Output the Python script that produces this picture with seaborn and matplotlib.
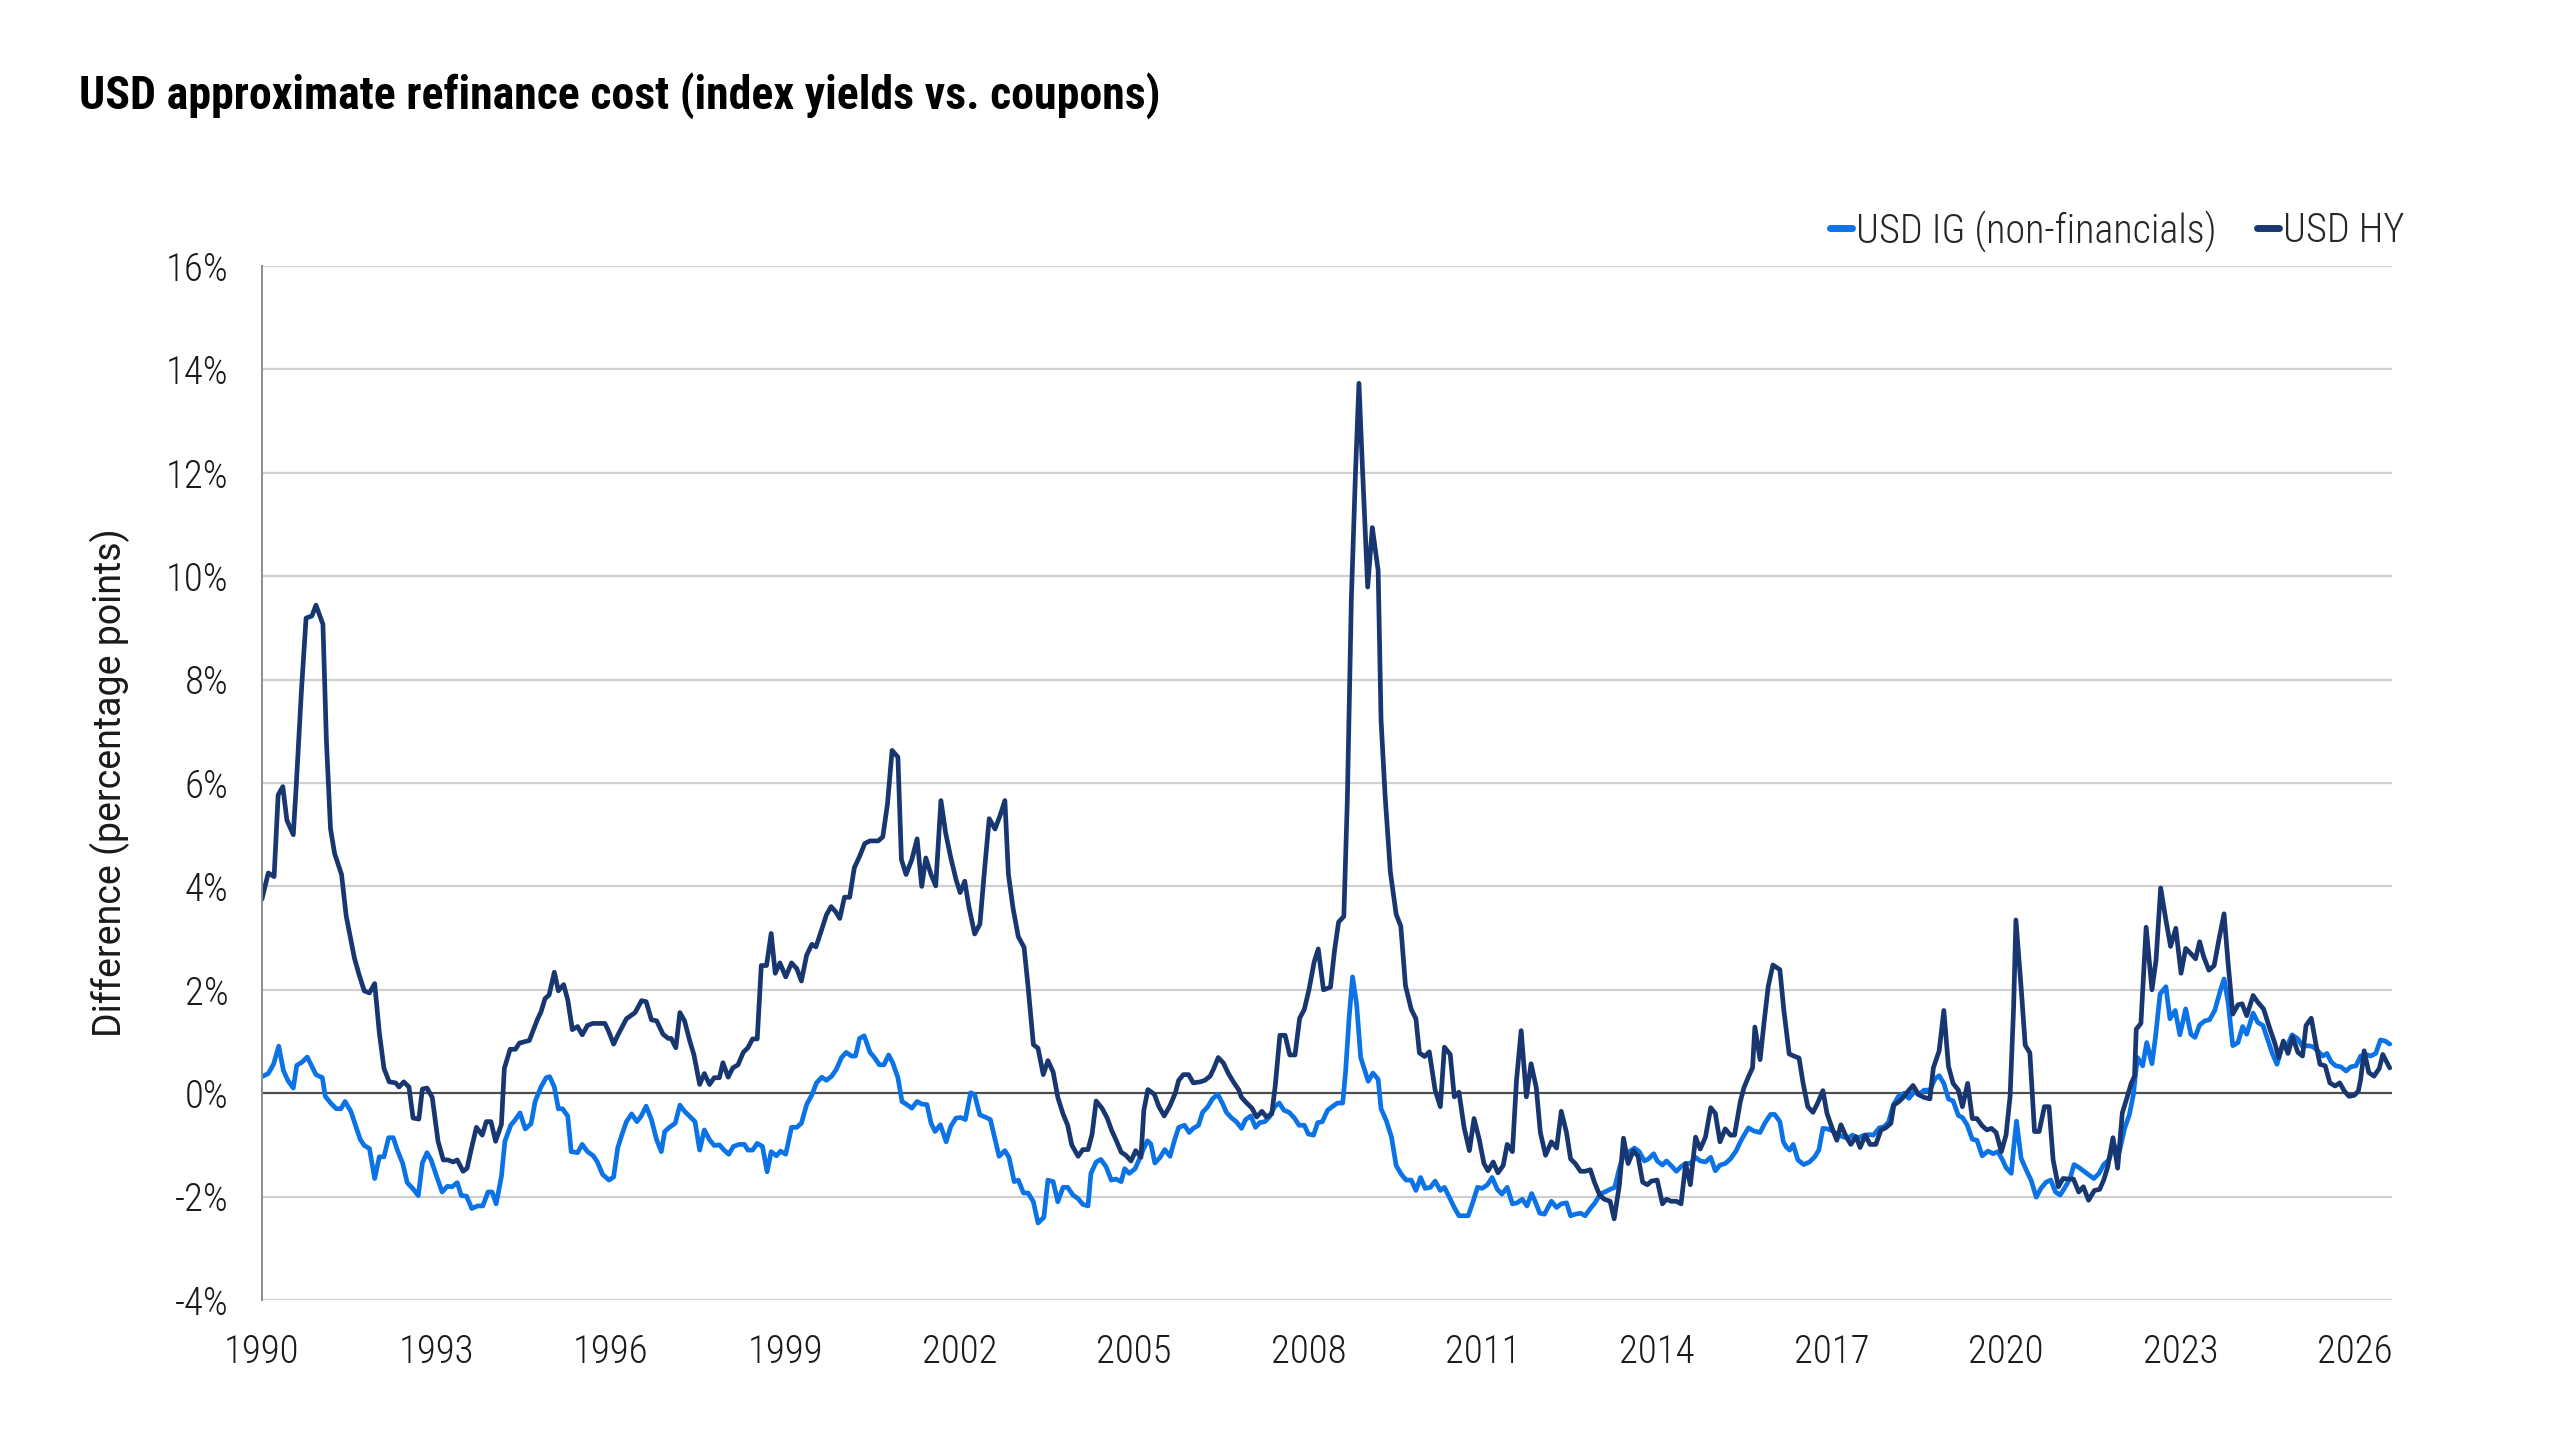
import numpy as np
import pandas as pd
import matplotlib
matplotlib.use("Agg")
import matplotlib.pyplot as plt
from matplotlib import font_manager
from matplotlib.ticker import PercentFormatter
import seaborn as sns

# values (year, percentage points)
hy_t = [1990.00, 1990.11, 1990.21, 1990.28, 1990.36, 1990.43, 1990.54, 1990.59, 1990.68, 1990.76,
        1990.86, 1990.93, 1991.05, 1991.11, 1991.18, 1991.25, 1991.37, 1991.45, 1991.59, 1991.67,
        1991.76, 1991.85, 1991.94, 1992.02, 1992.10, 1992.19, 1992.30, 1992.36, 1992.44, 1992.53,
        1992.60, 1992.70, 1992.76, 1992.84, 1992.93, 1993.03, 1993.12, 1993.20, 1993.29, 1993.36,
        1993.46, 1993.53, 1993.60, 1993.69, 1993.79, 1993.86, 1993.94, 1994.02, 1994.12, 1994.17,
        1994.27, 1994.36, 1994.43, 1994.60, 1994.74, 1994.80, 1994.87, 1994.94, 1995.03, 1995.10,
        1995.19, 1995.26, 1995.34, 1995.43, 1995.51, 1995.60, 1995.69, 1995.90, 1995.96, 1996.05,
        1996.13, 1996.27, 1996.42, 1996.53, 1996.61, 1996.70, 1996.79, 1996.90, 1996.99, 1997.04,
        1997.12, 1997.19, 1997.27, 1997.36, 1997.43, 1997.53, 1997.61, 1997.70, 1997.78, 1997.87,
        1997.93, 1998.02, 1998.10, 1998.19, 1998.28, 1998.36, 1998.44, 1998.52, 1998.59, 1998.68,
        1998.76, 1998.83, 1998.91, 1999.01, 1999.11, 1999.20, 1999.28, 1999.37, 1999.46, 1999.53,
        1999.63, 1999.71, 1999.79, 1999.87, 1999.94, 2000.02, 2000.11, 2000.19, 2000.28, 2000.37,
        2000.46, 2000.60, 2000.68, 2000.76, 2000.84, 2000.94, 2001.00, 2001.08, 2001.18, 2001.27,
        2001.35, 2001.42, 2001.51, 2001.59, 2001.68, 2001.76, 2001.85, 2001.94, 2002.01, 2002.09,
        2002.16, 2002.26, 2002.35, 2002.43, 2002.51, 2002.61, 2002.70, 2002.78, 2002.84, 2002.92,
        2003.01, 2003.11, 2003.18, 2003.27, 2003.35, 2003.44, 2003.52, 2003.61, 2003.69, 2003.78,
        2003.86, 2003.93, 2004.04, 2004.12, 2004.21, 2004.28, 2004.35, 2004.45, 2004.54, 2004.62,
        2004.69, 2004.78, 2004.86, 2004.95, 2005.03, 2005.12, 2005.17, 2005.24, 2005.35, 2005.43,
        2005.52, 2005.62, 2005.71, 2005.77, 2005.85, 2005.94, 2006.02, 2006.14, 2006.22, 2006.31,
        2006.37, 2006.45, 2006.54, 2006.62, 2006.71, 2006.80, 2006.85, 2006.94, 2007.03, 2007.11,
        2007.20, 2007.28, 2007.37, 2007.43, 2007.51, 2007.60, 2007.68, 2007.77, 2007.85, 2007.93,
        2008.01, 2008.10, 2008.17, 2008.26, 2008.38, 2008.45, 2008.52, 2008.61, 2008.67, 2008.74,
        2008.81, 2008.87, 2008.93, 2009.02, 2009.10, 2009.20, 2009.25, 2009.32, 2009.41, 2009.51,
        2009.59, 2009.67, 2009.77, 2009.85, 2009.91, 2010.00, 2010.08, 2010.18, 2010.27, 2010.34,
        2010.44, 2010.51, 2010.59, 2010.68, 2010.77, 2010.85, 2010.94, 2011.02, 2011.09, 2011.18,
        2011.26, 2011.35, 2011.42, 2011.51, 2011.58, 2011.66, 2011.75, 2011.83, 2011.92, 2011.99,
        2012.08, 2012.18, 2012.27, 2012.35, 2012.44, 2012.51, 2012.59, 2012.68, 2012.76, 2012.85,
        2012.92, 2013.01, 2013.09, 2013.19, 2013.26, 2013.35, 2013.42, 2013.50, 2013.59, 2013.67,
        2013.75, 2013.83, 2013.90, 2014.00, 2014.09, 2014.16, 2014.24, 2014.33, 2014.41, 2014.49,
        2014.57, 2014.66, 2014.74, 2014.83, 2014.92, 2015.00, 2015.08, 2015.17, 2015.26, 2015.33,
        2015.43, 2015.49, 2015.57, 2015.64, 2015.68, 2015.77, 2015.84, 2015.91, 2015.99, 2016.11,
        2016.18, 2016.27, 2016.37, 2016.44, 2016.51, 2016.59, 2016.68, 2016.76, 2016.85, 2016.92,
        2017.02, 2017.09, 2017.16, 2017.25, 2017.33, 2017.42, 2017.49, 2017.58, 2017.66, 2017.76,
        2017.85, 2017.93, 2018.02, 2018.07, 2018.16, 2018.25, 2018.33, 2018.40, 2018.50, 2018.59,
        2018.69, 2018.75, 2018.85, 2018.93, 2019.01, 2019.09, 2019.18, 2019.25, 2019.34, 2019.42,
        2019.50, 2019.59, 2019.67, 2019.75, 2019.83, 2019.92, 2020.00, 2020.07, 2020.13, 2020.17,
        2020.26, 2020.33, 2020.41, 2020.49, 2020.57, 2020.66, 2020.74, 2020.81, 2020.90, 2020.98,
        2021.08, 2021.16, 2021.25, 2021.33, 2021.42, 2021.52, 2021.61, 2021.68, 2021.75, 2021.84,
        2021.92, 2022.00, 2022.08, 2022.15, 2022.21, 2022.24, 2022.32, 2022.41, 2022.51, 2022.58,
        2022.66, 2022.75, 2022.83, 2022.92, 2023.01, 2023.09, 2023.18, 2023.26, 2023.33, 2023.40,
        2023.49, 2023.58, 2023.66, 2023.75, 2023.82, 2023.90, 2023.99, 2024.06, 2024.14, 2024.25,
        2024.33, 2024.43, 2024.54, 2024.62, 2024.69, 2024.77, 2024.85, 2024.93, 2025.02, 2025.10,
        2025.16, 2025.25, 2025.33, 2025.40, 2025.49, 2025.57, 2025.66, 2025.74, 2025.82, 2025.90,
        2025.99, 2026.06, 2026.10, 2026.16, 2026.24, 2026.33, 2026.42, 2026.48, 2026.54, 2026.60]
hy_v = [3.75, 4.26, 4.19, 5.77, 5.93, 5.28, 5.00, 5.93, 7.78, 9.19,
        9.23, 9.44, 9.07, 6.81, 5.12, 4.64, 4.23, 3.43, 2.62, 2.30,
        1.98, 1.94, 2.12, 1.17, 0.48, 0.22, 0.20, 0.12, 0.22, 0.12,
        -0.48, -0.50, 0.08, 0.10, -0.08, -0.93, -1.29, -1.29, -1.33, -1.29,
        -1.51, -1.45, -1.09, -0.66, -0.81, -0.55, -0.55, -0.93, -0.60, 0.48,
        0.85, 0.85, 0.97, 1.02, 1.43, 1.57, 1.83, 1.90, 2.34, 1.98,
        2.10, 1.81, 1.23, 1.29, 1.13, 1.31, 1.35, 1.35, 1.21, 0.95,
        1.14, 1.44, 1.56, 1.79, 1.77, 1.42, 1.40, 1.14, 1.06, 1.06,
        0.88, 1.56, 1.40, 1.01, 0.75, 0.17, 0.38, 0.17, 0.30, 0.30,
        0.59, 0.31, 0.49, 0.55, 0.79, 0.88, 1.05, 1.05, 2.47, 2.47,
        3.09, 2.32, 2.52, 2.25, 2.52, 2.41, 2.17, 2.67, 2.88, 2.83,
        3.17, 3.45, 3.61, 3.51, 3.38, 3.79, 3.79, 4.36, 4.58, 4.83,
        4.88, 4.88, 4.96, 5.59, 6.63, 6.50, 4.52, 4.23, 4.52, 4.92,
        4.00, 4.55, 4.23, 4.01, 5.66, 5.04, 4.55, 4.13, 3.88, 4.10,
        3.61, 3.08, 3.27, 4.32, 5.31, 5.11, 5.38, 5.66, 4.24, 3.58,
        3.03, 2.82, 2.05, 0.94, 0.87, 0.36, 0.63, 0.41, -0.08, -0.40,
        -0.62, -1.00, -1.22, -1.09, -1.09, -0.79, -0.15, -0.29, -0.48, -0.73,
        -0.90, -1.14, -1.20, -1.31, -1.11, -1.24, -0.33, 0.07, -0.02, -0.26,
        -0.44, -0.24, 0.00, 0.25, 0.36, 0.36, 0.20, 0.22, 0.25, 0.33,
        0.47, 0.69, 0.58, 0.39, 0.22, 0.07, -0.08, -0.19, -0.29, -0.46,
        -0.35, -0.46, -0.40, 0.14, 1.12, 1.12, 0.74, 0.74, 1.45, 1.62,
        2.00, 2.54, 2.79, 2.00, 2.05, 2.76, 3.31, 3.42, 5.66, 9.59,
        11.99, 13.73, 12.10, 9.79, 10.94, 10.11, 7.22, 5.75, 4.28, 3.46,
        3.23, 2.08, 1.62, 1.44, 0.78, 0.71, 0.80, 0.06, -0.26, 0.89,
        0.75, -0.07, 0.02, -0.67, -1.11, -0.49, -0.90, -1.36, -1.50, -1.33,
        -1.54, -1.40, -0.99, -1.13, 0.25, 1.21, -0.07, 0.57, 0.11, -0.76,
        -1.20, -0.94, -1.06, -0.35, -0.76, -1.27, -1.36, -1.51, -1.51, -1.48,
        -1.72, -1.97, -2.05, -2.09, -2.43, -1.77, -0.87, -1.36, -1.11, -1.22,
        -1.72, -1.77, -1.70, -1.68, -2.14, -2.05, -2.09, -2.09, -2.14, -1.36,
        -1.77, -0.85, -1.08, -0.85, -0.28, -0.39, -0.94, -0.69, -0.81, -0.81,
        -0.16, 0.10, 0.32, 0.49, 1.28, 0.65, 1.39, 2.07, 2.48, 2.39,
        1.59, 0.76, 0.71, 0.68, 0.19, -0.26, -0.37, -0.19, 0.05, -0.39,
        -0.71, -0.91, -0.61, -0.84, -0.99, -0.84, -1.05, -0.81, -0.99, -0.99,
        -0.71, -0.67, -0.58, -0.23, -0.16, -0.06, 0.06, 0.15, -0.03, -0.08,
        -0.11, 0.49, 0.82, 1.60, 0.52, 0.19, 0.06, -0.26, 0.19, -0.49,
        -0.49, -0.63, -0.71, -0.68, -0.76, -1.13, -0.81, -0.06, 1.65, 3.35,
        2.04, 0.93, 0.78, -0.74, -0.74, -0.26, -0.26, -1.29, -1.81, -1.65,
        -1.66, -1.66, -1.91, -1.81, -2.07, -1.88, -1.86, -1.68, -1.42, -0.86,
        -1.45, -0.38, -0.09, 0.18, 0.33, 1.24, 1.35, 3.21, 2.00, 2.57,
        3.97, 3.35, 2.84, 3.19, 2.32, 2.80, 2.70, 2.60, 2.93, 2.64,
        2.38, 2.47, 2.96, 3.47, 2.51, 1.53, 1.71, 1.73, 1.50, 1.89,
        1.76, 1.63, 1.24, 0.98, 0.69, 1.01, 0.77, 1.09, 0.79, 0.72,
        1.31, 1.45, 0.95, 0.56, 0.53, 0.20, 0.14, 0.20, 0.04, -0.06,
        -0.04, 0.04, 0.27, 0.82, 0.40, 0.33, 0.48, 0.75, 0.62, 0.49]

ig_t = [1990.00, 1990.11, 1990.20, 1990.29, 1990.37, 1990.45, 1990.54, 1990.60, 1990.69, 1990.78,
        1990.86, 1990.93, 1991.04, 1991.09, 1991.19, 1991.28, 1991.36, 1991.43, 1991.53, 1991.62,
        1991.69, 1991.76, 1991.85, 1991.94, 1992.02, 1992.10, 1992.18, 1992.26, 1992.33, 1992.42,
        1992.50, 1992.60, 1992.69, 1992.76, 1992.84, 1992.91, 1993.00, 1993.10, 1993.19, 1993.27,
        1993.36, 1993.43, 1993.52, 1993.61, 1993.71, 1993.80, 1993.89, 1993.96, 1994.03, 1994.12,
        1994.18, 1994.28, 1994.36, 1994.44, 1994.53, 1994.63, 1994.70, 1994.80, 1994.89, 1994.95,
        1995.03, 1995.10, 1995.17, 1995.26, 1995.32, 1995.43, 1995.51, 1995.60, 1995.70, 1995.77,
        1995.86, 1995.97, 1996.05, 1996.12, 1996.19, 1996.27, 1996.36, 1996.45, 1996.52, 1996.61,
        1996.70, 1996.79, 1996.87, 1996.93, 1997.01, 1997.11, 1997.19, 1997.27, 1997.36, 1997.45,
        1997.53, 1997.61, 1997.70, 1997.78, 1997.87, 1997.95, 1998.03, 1998.11, 1998.21, 1998.30,
        1998.36, 1998.44, 1998.52, 1998.61, 1998.69, 1998.76, 1998.85, 1998.92, 1999.01, 1999.11,
        1999.20, 1999.28, 1999.37, 1999.46, 1999.54, 1999.63, 1999.71, 1999.80, 1999.88, 1999.97,
        2000.05, 2000.14, 2000.21, 2000.28, 2000.36, 2000.46, 2000.53, 2000.62, 2000.70, 2000.78,
        2000.85, 2000.94, 2001.01, 2001.08, 2001.18, 2001.27, 2001.35, 2001.44, 2001.51, 2001.58,
        2001.67, 2001.77, 2001.85, 2001.94, 2002.02, 2002.10, 2002.19, 2002.26, 2002.35, 2002.44,
        2002.53, 2002.60, 2002.68, 2002.78, 2002.85, 2002.94, 2003.01, 2003.10, 2003.18, 2003.27,
        2003.35, 2003.45, 2003.52, 2003.61, 2003.69, 2003.78, 2003.86, 2003.95, 2004.04, 2004.12,
        2004.21, 2004.26, 2004.35, 2004.43, 2004.52, 2004.61, 2004.69, 2004.78, 2004.84, 2004.92,
        2005.02, 2005.09, 2005.16, 2005.23, 2005.29, 2005.36, 2005.45, 2005.53, 2005.62, 2005.70,
        2005.77, 2005.87, 2005.95, 2006.02, 2006.11, 2006.18, 2006.27, 2006.35, 2006.44, 2006.52,
        2006.59, 2006.68, 2006.76, 2006.85, 2006.92, 2007.01, 2007.09, 2007.16, 2007.25, 2007.33,
        2007.42, 2007.50, 2007.58, 2007.67, 2007.76, 2007.84, 2007.93, 2008.00, 2008.09, 2008.16,
        2008.24, 2008.33, 2008.41, 2008.50, 2008.59, 2008.64, 2008.70, 2008.76, 2008.83, 2008.90,
        2009.03, 2009.11, 2009.20, 2009.25, 2009.34, 2009.43, 2009.51, 2009.60, 2009.68, 2009.77,
        2009.85, 2009.93, 2010.01, 2010.10, 2010.18, 2010.27, 2010.34, 2010.42, 2010.51, 2010.59,
        2010.75, 2010.82, 2010.91, 2010.99, 2011.08, 2011.16, 2011.25, 2011.33, 2011.42, 2011.51,
        2011.59, 2011.68, 2011.76, 2011.84, 2011.90, 2011.98, 2012.06, 2012.18, 2012.27, 2012.35,
        2012.44, 2012.51, 2012.59, 2012.68, 2012.76, 2012.85, 2012.93, 2013.02, 2013.10, 2013.19,
        2013.27, 2013.35, 2013.43, 2013.52, 2013.61, 2013.69, 2013.78, 2013.85, 2013.94, 2014.00,
        2014.09, 2014.16, 2014.24, 2014.33, 2014.41, 2014.49, 2014.57, 2014.66, 2014.74, 2014.83,
        2014.92, 2015.00, 2015.08, 2015.17, 2015.26, 2015.36, 2015.43, 2015.49, 2015.57, 2015.66,
        2015.77, 2015.85, 2015.95, 2016.02, 2016.11, 2016.17, 2016.22, 2016.28, 2016.34, 2016.42,
        2016.52, 2016.62, 2016.71, 2016.78, 2016.85, 2016.93, 2017.02, 2017.11, 2017.19, 2017.28,
        2017.36, 2017.45, 2017.54, 2017.64, 2017.72, 2017.82, 2017.90, 2017.98, 2018.06, 2018.15,
        2018.25, 2018.33, 2018.42, 2018.50, 2018.59, 2018.69, 2018.78, 2018.85, 2018.93, 2019.01,
        2019.09, 2019.18, 2019.25, 2019.33, 2019.42, 2019.50, 2019.59, 2019.69, 2019.78, 2019.86,
        2019.94, 2020.00, 2020.09, 2020.13, 2020.18, 2020.26, 2020.35, 2020.43, 2020.52, 2020.60,
        2020.69, 2020.77, 2020.85, 2020.93, 2021.02, 2021.10, 2021.17, 2021.26, 2021.34, 2021.51,
        2021.60, 2021.68, 2021.77, 2021.85, 2021.95, 2022.04, 2022.12, 2022.19, 2022.26, 2022.35,
        2022.42, 2022.51, 2022.57, 2022.65, 2022.75, 2022.82, 2022.91, 2022.99, 2023.09, 2023.18,
        2023.25, 2023.33, 2023.42, 2023.50, 2023.59, 2023.69, 2023.75, 2023.82, 2023.90, 2023.99,
        2024.07, 2024.14, 2024.25, 2024.33, 2024.42, 2024.51, 2024.58, 2024.66, 2024.75, 2024.83,
        2024.92, 2025.02, 2025.10, 2025.19, 2025.28, 2025.36, 2025.45, 2025.52, 2025.59, 2025.67,
        2025.76, 2025.85, 2025.93, 2026.02, 2026.10, 2026.19, 2026.27, 2026.36, 2026.44, 2026.52,
        2026.60]
ig_v = [0.32, 0.38, 0.56, 0.91, 0.44, 0.24, 0.10, 0.54, 0.60, 0.70,
        0.52, 0.36, 0.30, -0.06, -0.20, -0.30, -0.30, -0.16, -0.35, -0.65,
        -0.89, -1.01, -1.07, -1.65, -1.23, -1.23, -0.86, -0.86, -1.10, -1.35,
        -1.73, -1.85, -1.98, -1.35, -1.15, -1.29, -1.59, -1.91, -1.80, -1.81,
        -1.73, -1.98, -1.99, -2.23, -2.18, -2.18, -1.91, -1.91, -2.14, -1.61,
        -0.93, -0.62, -0.51, -0.38, -0.69, -0.59, -0.16, 0.12, 0.30, 0.32,
        0.12, -0.30, -0.30, -0.44, -1.13, -1.15, -0.99, -1.13, -1.21, -1.33,
        -1.57, -1.68, -1.62, -1.06, -0.81, -0.55, -0.40, -0.55, -0.45, -0.25,
        -0.51, -0.90, -1.13, -0.74, -0.66, -0.58, -0.23, -0.35, -0.45, -0.55,
        -1.10, -0.71, -0.90, -1.01, -1.00, -1.10, -1.18, -1.03, -0.99, -0.99,
        -1.10, -1.10, -0.97, -1.03, -1.52, -1.13, -1.21, -1.12, -1.18, -0.66,
        -0.66, -0.58, -0.22, -0.03, 0.20, 0.31, 0.25, 0.33, 0.46, 0.69,
        0.79, 0.72, 0.72, 1.06, 1.11, 0.79, 0.70, 0.55, 0.55, 0.74,
        0.59, 0.30, -0.16, -0.21, -0.29, -0.16, -0.21, -0.22, -0.58, -0.74,
        -0.61, -0.94, -0.64, -0.48, -0.47, -0.51, 0.01, -0.03, -0.42, -0.46,
        -0.51, -0.84, -1.22, -1.11, -1.24, -1.71, -1.68, -1.93, -1.93, -2.10,
        -2.51, -2.40, -1.68, -1.71, -2.10, -1.82, -1.82, -1.97, -2.04, -2.15,
        -2.18, -1.55, -1.33, -1.28, -1.42, -1.68, -1.66, -1.71, -1.46, -1.55,
        -1.46, -1.28, -1.09, -0.92, -0.98, -1.35, -1.24, -1.09, -1.22, -0.90,
        -0.66, -0.62, -0.76, -0.68, -0.62, -0.37, -0.26, -0.11, -0.02, -0.19,
        -0.37, -0.48, -0.55, -0.68, -0.51, -0.44, -0.66, -0.57, -0.55, -0.46,
        -0.26, -0.19, -0.33, -0.37, -0.48, -0.62, -0.62, -0.79, -0.81, -0.57,
        -0.55, -0.33, -0.26, -0.19, -0.19, 0.41, 1.45, 2.25, 1.72, 0.69,
        0.23, 0.39, 0.27, -0.30, -0.53, -0.85, -1.40, -1.57, -1.68, -1.68,
        -1.88, -1.63, -1.84, -1.82, -1.70, -1.88, -1.82, -2.00, -2.21, -2.37,
        -2.37, -2.14, -1.82, -1.84, -1.77, -1.63, -1.86, -1.95, -1.82, -2.14,
        -2.12, -2.05, -2.18, -1.94, -2.09, -2.32, -2.34, -2.09, -2.21, -2.14,
        -2.12, -2.37, -2.34, -2.32, -2.37, -2.23, -2.12, -1.95, -1.91, -1.86,
        -1.82, -1.45, -1.17, -1.13, -1.06, -1.13, -1.31, -1.27, -1.17, -1.31,
        -1.39, -1.31, -1.40, -1.51, -1.42, -1.36, -1.36, -1.24, -1.31, -1.33,
        -1.24, -1.50, -1.39, -1.36, -1.27, -1.11, -0.94, -0.82, -0.67, -0.73,
        -0.76, -0.58, -0.41, -0.41, -0.55, -0.94, -1.04, -1.10, -0.99, -1.29,
        -1.38, -1.33, -1.23, -1.10, -0.68, -0.69, -0.73, -0.81, -0.84, -0.87,
        -0.81, -0.87, -0.82, -0.80, -0.81, -0.67, -0.65, -0.56, -0.23, -0.06,
        0.00, -0.10, 0.03, -0.03, 0.06, 0.06, 0.28, 0.34, 0.19, -0.11,
        -0.15, -0.43, -0.47, -0.61, -0.89, -0.91, -1.21, -1.12, -1.17, -1.13,
        -1.29, -1.44, -1.55, -1.07, -0.54, -1.26, -1.49, -1.68, -2.01, -1.84,
        -1.72, -1.68, -1.91, -1.97, -1.81, -1.65, -1.38, -1.44, -1.51, -1.65,
        -1.55, -1.38, -1.29, -1.00, -1.13, -0.68, -0.42, -0.03, 0.69, 0.53,
        0.98, 0.57, 1.08, 1.92, 2.06, 1.44, 1.60, 1.13, 1.63, 1.14,
        1.08, 1.32, 1.40, 1.42, 1.60, 2.00, 2.21, 1.76, 0.92, 0.98,
        1.29, 1.14, 1.55, 1.37, 1.31, 1.01, 0.77, 0.56, 0.90, 0.90,
        1.13, 1.05, 0.90, 0.92, 0.90, 0.82, 0.72, 0.77, 0.61, 0.53,
        0.51, 0.43, 0.51, 0.53, 0.72, 0.75, 0.72, 0.77, 1.03, 1.01,
        0.95]

series_names = ["USD IG (non-financials)", "USD HY"]
series_colors = ["#0b73e6", "#18366f"]
year_ticks = list(range(1990, 2027, 3))
pct_ticks = list(range(-4, 17, 2))

title = "USD approximate refinance cost (index yields vs. coupons)"
ylabel = "Difference (percentage points)"

# fonts: narrow family for the chart texts when available
sns.set_theme(style="white")
names = {f.name for f in font_manager.fontManager.ttflist}
narrow = "Roboto"
for cand in ["Roboto Condensed", "Liberation Sans Narrow"]:
    if cand in names:
        narrow = cand
        break
plt.rcParams["font.family"] = [narrow, "DejaVu Sans"]
plt.rcParams["axes.unicode_minus"] = False

df = pd.concat([
    pd.DataFrame({"year": ig_t, "value": ig_v, "series": series_names[0]}),
    pd.DataFrame({"year": hy_t, "value": hy_v, "series": series_names[1]}),
])

fig = plt.figure(figsize=(25.6, 14.4), dpi=100)
ax = fig.add_axes([0.1023, 0.0972, 0.8321, 0.7181])

for y in pct_ticks:
    ax.axhline(y, color="#4d4d4d" if y == 0 else "#d0d0d0", lw=1.6, zorder=0)

sns.lineplot(data=df, x="year", y="value", hue="series", hue_order=series_names,
             palette=series_colors, linewidth=3.4, estimator=None, ax=ax)

ax.set_xlim(1990, 2026.64)
ax.set_ylim(-4, 16)
ax.set_xticks(year_ticks)
ax.set_xticklabels([str(y) for y in year_ticks])
ax.set_yticks(pct_ticks)
ax.yaxis.set_major_formatter(PercentFormatter(decimals=0))
ax.tick_params(axis="both", length=0, labelsize=28, colors="#1a1a1a")
ax.tick_params(axis="x", pad=24)
ax.tick_params(axis="y", pad=24)
for lab in ax.get_xticklabels() + ax.get_yticklabels():
    lab.set_fontweight("light")

for s in ["top", "right", "bottom"]:
    ax.spines[s].set_visible(False)
ax.spines["left"].set_color("#8c8c8c")
ax.spines["left"].set_linewidth(1.4)

ax.set_xlabel("")
ax.set_ylabel(ylabel, fontsize=27, family=["Roboto", "DejaVu Sans"], color="#1a1a1a", labelpad=26)

handles, labels = ax.get_legend_handles_labels()
leg = ax.legend(handles, labels, loc="center right", bbox_to_anchor=(1.006, 1.034),
                ncol=2, frameon=False, fontsize=29, handlelength=0.55, handletextpad=0.1,
                columnspacing=1.0, borderaxespad=0, borderpad=0)
for line in leg.get_lines():
    line.set_linewidth(5)
for txt in leg.get_texts():
    txt.set_fontweight("light")

fig.text(0.031, 0.934, title, fontsize=33, fontweight="bold", va="center", ha="left",
         color="#000000")

fig.savefig("out.png", dpi=100)
